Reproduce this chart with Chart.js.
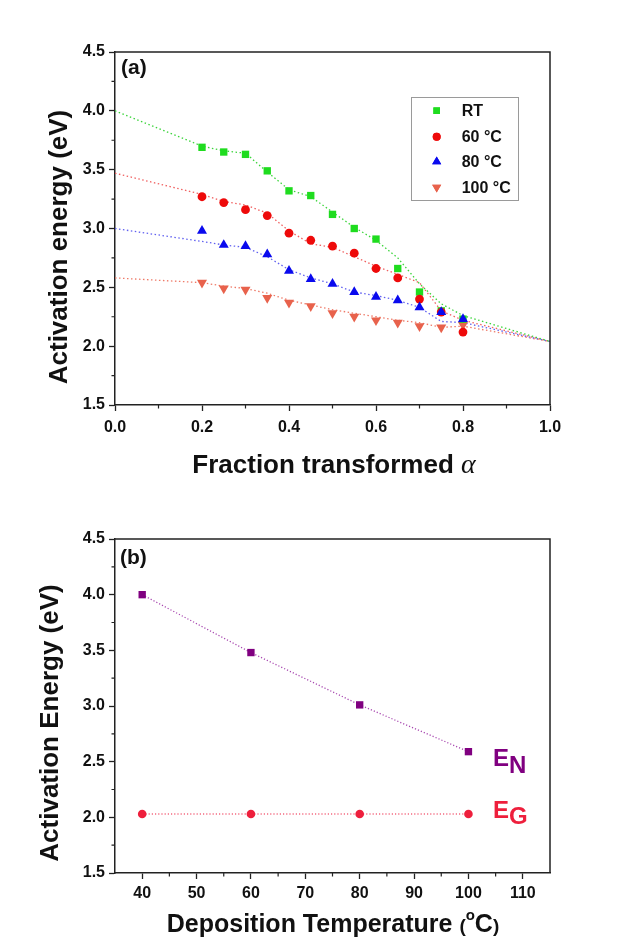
<!DOCTYPE html>
<html><head><meta charset="utf-8">
<script src="https://cdn.jsdelivr.net/npm/chart.js@4.4.1/dist/chart.umd.min.js"></script>
<style>
html,body{margin:0;padding:0;background:#fff;}
#wrap{position:relative;width:621px;height:949px;background:#fff;}
canvas{position:absolute;left:0;}
</style></head><body>
<div id="wrap">
<canvas id="ca" width="621" height="480" style="top:0px"></canvas>
<canvas id="cb" width="621" height="469" style="top:480px"></canvas>
</div>
<script>
// ---------- data: panel (a) ----------
const alphaX = [0.2,0.25,0.3,0.35,0.4,0.45,0.5,0.55,0.6,0.65,0.7,0.75,0.8];
const eRT   = [3.69,3.65,3.63,3.49,3.32,3.28,3.12,3.00,2.91,2.66,2.46,2.30,2.23];
const e60   = [3.27,3.22,3.16,3.11,2.96,2.90,2.85,2.79,2.66,2.58,2.40,2.29,2.12];
const e80   = [2.98,2.86,2.85,2.78,2.64,2.57,2.53,2.46,2.42,2.39,2.33,2.29,2.23];
const e100  = [2.54,2.49,2.48,2.41,2.37,2.34,2.28,2.25,2.22,2.20,2.17,2.16,2.18];
const fitX   = [0,0.2,0.25,0.3,0.35,0.4,0.45,0.5,0.55,0.6,0.65,0.7,0.75,0.8,1.0];
const fitRT  = [4.00,3.70,3.66,3.64,3.48,3.33,3.27,3.14,3.01,2.90,2.75,2.53,2.36,2.26,2.04];
const fit60  = [3.47,3.29,3.23,3.20,3.13,2.98,2.87,2.84,2.76,2.68,2.61,2.54,2.30,2.22,2.04];
const fit80  = [3.00,2.89,2.86,2.84,2.76,2.65,2.58,2.53,2.46,2.43,2.39,2.33,2.21,2.20,2.04];
const fit100 = [2.58,2.54,2.51,2.49,2.45,2.39,2.35,2.31,2.28,2.25,2.22,2.20,2.16,2.17,2.04];
const seriesNamesA = ['RT','60 °C','80 °C','100 °C'];
const xTicksA = [0,0.2,0.4,0.6,0.8,1.0];
const xMinorA = [0.1,0.3,0.5,0.7,0.9];
const yTicks = [1.5,2.0,2.5,3.0,3.5,4.0,4.5];
const yMinor = [1.75,2.25,2.75,3.25,3.75,4.25];

// ---------- data: panel (b) ----------
const depT = [40,60,80,100];
const eN = [4.00,3.48,3.01,2.59];
const eG = [2.03,2.03,2.03,2.03];
const xTicksB = [40,50,60,70,80,90,100,110];
const xMinorB = [45,55,65,75,85,95,105];

const FONT = '"Liberation Sans", Arial, Helvetica, sans-serif';
const AX = '#222';

function pts(xs, ys){ return xs.map((x,i)=>({x:x,y:ys[i]})); }

function axisCfg(min, max, ticks, fmt, isY, ySize, pad){
  return {
    type:'linear', min:min, max:max,
    afterBuildTicks: s => { s.ticks = ticks.map(v=>({value:v})); },
    afterFit: s => { if(isY){ s.width = ySize; } else { s.height = ySize; } },
    grid:{display:true, drawOnChartArea:false, drawTicks:true, tickLength:6, tickColor:AX, tickWidth:1.3},
    border:{display:true, color:AX, width:1.5},
    ticks:{color:'#111', font:{family:FONT, size:16, weight:'bold'}, padding:pad, maxRotation:0, autoSkip:false,
      callback: v => fmt(v)}
  };
}

function framePlugin(minorX, minorY){
  return {
    id:'frame',
    afterDraw(chart){
      const {ctx, chartArea:a, scales} = chart;
      ctx.save();
      ctx.strokeStyle = AX; ctx.lineWidth = 1.5;
      ctx.beginPath();
      ctx.moveTo(a.left, a.top); ctx.lineTo(a.right, a.top); ctx.lineTo(a.right, a.bottom);
      ctx.stroke();
      ctx.lineWidth = 1.2;
      ctx.beginPath();
      minorX.forEach(v=>{ const p = scales.x.getPixelForValue(v); ctx.moveTo(p, a.bottom); ctx.lineTo(p, a.bottom+3.5); });
      minorY.forEach(v=>{ const p = scales.y.getPixelForValue(v); ctx.moveTo(a.left, p); ctx.lineTo(a.left-3.5, p); });
      ctx.stroke();
      ctx.restore();
    }
  };
}

function fitDs(data, color){
  return {data:pts(fitX, data), showLine:true, borderColor:color, borderWidth:1.3, borderDash:[1.5,2.5],
    pointRadius:0, fill:false, order:10};
}
function markDs(label, data, color, style, r, rot, order){
  return {label:label, data:pts(alphaX, data), showLine:false, pointStyle:style, pointRadius:r, pointRotation:rot,
    backgroundColor:color, borderColor:color, borderWidth:0, order:order};
}

const colRT='#1fdc1f', col60='#ee0a0a', col80='#0a0aee', col100='#e8624c';
const RR = 5.2, RC = 4.4, RTR = 5.8;
const markers = [
  {name:seriesNamesA[0], color:colRT, style:'rect', r:RR, rot:0},
  {name:seriesNamesA[1], color:col60, style:'circle', r:RC, rot:0},
  {name:seriesNamesA[2], color:col80, style:'triangle', r:RTR, rot:0},
  {name:seriesNamesA[3], color:col100, style:'triangle', r:RTR, rot:180}
];

const textA = {
  id:'textA',
  afterDraw(chart){
    const ctx = chart.ctx;
    ctx.save();
    ctx.fillStyle = '#111';
    ctx.font = 'bold 21px '+FONT; ctx.textBaseline='middle'; ctx.textAlign='left';
    ctx.fillText('(a)', 121, 68);
    ctx.strokeStyle = '#9a9a9a'; ctx.lineWidth = 1;
    ctx.strokeRect(411.5, 97.5, 107, 103);
    const ys = [110.7,136.7,161.7,187.3];
    markers.forEach((m,i)=>{
      ctx.fillStyle = m.color; ctx.strokeStyle = m.color;
      Chart.helpers.drawPoint(ctx, {pointStyle:m.style, radius:m.r*0.9, rotation:m.rot, borderWidth:0}, 436.7, ys[i]);
      ctx.fill();
      ctx.fillStyle = '#111';
      ctx.font = 'bold 16px '+FONT; ctx.textBaseline='middle';
      ctx.fillText(m.name, 461.7, ys[i]+1);
    });
    ctx.font = 'bold 26px '+FONT;
    ctx.translate(60, 247); ctx.rotate(-Math.PI/2);
    ctx.textAlign='center'; ctx.textBaseline='middle';
    ctx.fillText('Activation energy (eV)', 0, 0);
    ctx.restore();
    ctx.save();
    ctx.fillStyle='#111'; ctx.textBaseline='alphabetic'; ctx.textAlign='left';
    const t1 = 'Fraction transformed ';
    ctx.font = 'bold 26px '+FONT; const w1 = ctx.measureText(t1).width;
    ctx.font = 'italic 28px "Liberation Serif", "DejaVu Serif", serif'; const w2 = ctx.measureText('α').width;
    let x0 = 334 - (w1+w2)/2;
    ctx.font = 'bold 26px '+FONT; ctx.fillText(t1, x0, 473);
    ctx.font = 'italic 28px "Liberation Serif", "DejaVu Serif", serif'; ctx.fillText('α', x0+w1, 473);
    ctx.restore();
  }
};

new Chart(document.getElementById('ca'), {
  type:'scatter',
  data:{datasets:[
    fitDs(fitRT,'#3bd43b'), fitDs(fit60,'#f06060'), fitDs(fit80,'#6060f0'), fitDs(fit100,'#ee7a68'),
    markDs(seriesNamesA[3], e100, col100, 'triangle', RTR, 180, 4),
    markDs(seriesNamesA[0], eRT, colRT, 'rect', RR, 0, 3),
    markDs(seriesNamesA[1], e60, col60, 'circle', RC, 0, 2),
    markDs(seriesNamesA[2], e80, col80, 'triangle', RTR, 0, 1)
  ]},
  options:{
    responsive:false, animation:false, events:[],
    layout:{padding:{left:0, right:71, top:52, bottom:0}},
    plugins:{legend:{display:false}, tooltip:{enabled:false}},
    scales:{
      x: axisCfg(0, 1, xTicksA, v=>v.toFixed(1), false, 75, 7),
      y: axisCfg(1.5, 4.5, yTicks, v=>v.toFixed(1), true, 115, 4)
    }
  },
  plugins:[framePlugin(xMinorA, yMinor), textA]
});

const colN = '#800080', colG = '#ee1f3c';
const textB = {
  id:'textB',
  afterDraw(chart){
    const ctx = chart.ctx;
    ctx.save();
    ctx.fillStyle = '#111';
    ctx.font = 'bold 21px '+FONT; ctx.textBaseline='middle'; ctx.textAlign='left';
    ctx.fillText('(b)', 120, 78);
    ctx.textBaseline='alphabetic';
    ctx.fillStyle = colN; ctx.font = 'bold 24px '+FONT;
    ctx.fillText('E', 493, 286);
    ctx.fillText('N', 509, 293);
    ctx.fillStyle = colG;
    ctx.fillText('E', 493, 338);
    ctx.fillText('G', 509, 344);
    ctx.fillStyle = '#111';
    ctx.font = 'bold 26px '+FONT;
    ctx.translate(51, 243); ctx.rotate(-Math.PI/2);
    ctx.textAlign='center'; ctx.textBaseline='middle';
    ctx.fillText('Activation Energy (eV)', 0, 0);
    ctx.restore();
    ctx.save();
    ctx.fillStyle='#111'; ctx.textBaseline='alphabetic'; ctx.textAlign='left';
    const big = 'bold 25px '+FONT, small='bold 19px '+FONT, sup='bold 15px '+FONT;
    const parts = [['Deposition Temperature ', big, 0], ['(', small, 0], ['o', sup, -12], ['C', big, 0], [')', small, 0]];
    let tot = 0;
    parts.forEach(p=>{ ctx.font=p[1]; p.push(ctx.measureText(p[0]).width); tot += p[3]; });
    let x = 333 - tot/2;
    parts.forEach(p=>{ ctx.font=p[1]; ctx.fillText(p[0], x, 452 + p[2]); x += p[3]; });
    ctx.restore();
  }
};

new Chart(document.getElementById('cb'), {
  type:'scatter',
  data:{datasets:[
    {label:'EN', data:pts(depT,eN), showLine:true, borderColor:'#a848b0', borderWidth:1.3, borderDash:[1.2,2],
      pointStyle:'rect', pointRadius:5.2, backgroundColor:colN, pointBorderColor:colN, pointBorderWidth:0, order:1},
    {label:'EG', data:pts(depT,eG), showLine:true, borderColor:'#f36a80', borderWidth:1.3, borderDash:[1.2,2],
      pointStyle:'circle', pointRadius:4.3, backgroundColor:colG, pointBorderColor:colG, pointBorderWidth:0, order:2}
  ]},
  options:{
    responsive:false, animation:false, events:[],
    layout:{padding:{left:0, right:71, top:59, bottom:0}},
    plugins:{legend:{display:false}, tooltip:{enabled:false}},
    scales:{
      x: axisCfg(35, 115, xTicksB, v=>String(Math.round(v)), false, 76, 5),
      y: axisCfg(1.5, 4.5, yTicks, v=>v.toFixed(1), true, 115, 4)
    }
  },
  plugins:[framePlugin(xMinorB, yMinor), textB]
});
</script>
</body></html>
